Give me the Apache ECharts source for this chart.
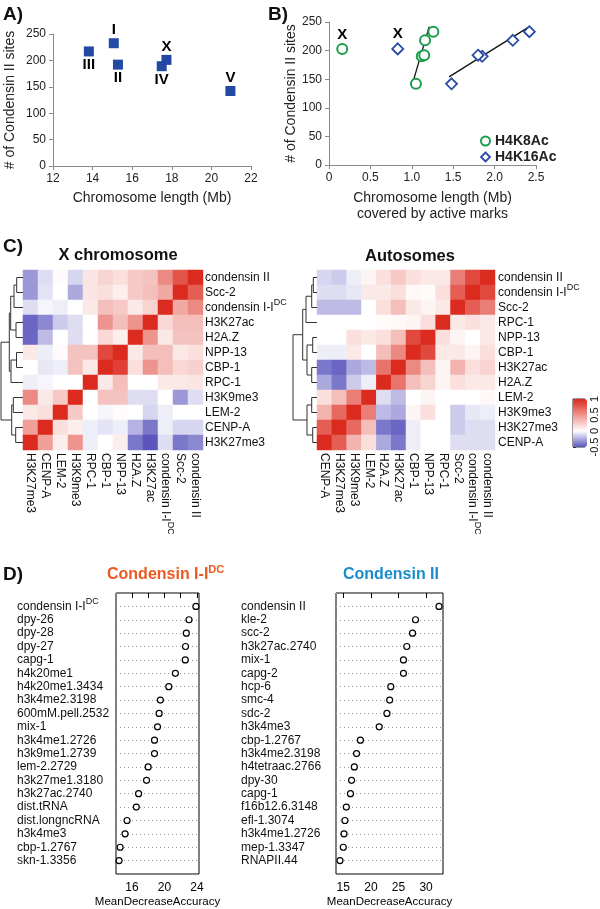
<!DOCTYPE html>
<html><head><meta charset="utf-8">
<script src="https://cdn.jsdelivr.net/npm/echarts@6/dist/echarts.min.js"></script>
<style>html,body{margin:0;padding:0;background:#fff}#c{width:600px;height:909px}</style>
</head><body><div id="c"></div>
<script>
// ---------- Panel A ----------
const aChrom = ['III','I','II','IV','X','V'];
const aLength = [13.81, 15.07, 15.28, 17.49, 17.73, 20.96];
const aSites = [217, 232.5, 192, 189, 201, 142];

// ---------- Panel B ----------
const bChrom = ['X','V','IV','II','III','I'];
const bSites = [203, 142, 190, 192, 218, 233];
const bH4K8 = [0.16, 1.05, 1.12, 1.15, 1.16, 1.26];
const bH4K16 = [0.83, 1.48, 1.85, 1.80, 2.22, 2.42];
const h4k8Trend = [[1.02, 148], [1.21, 242]];
const h4k16Trend = [[1.45, 154], [2.42, 242]];

// ---------- Panel C ----------
const rowsX = ['condensin II','Scc-2','condensin I-I^DC','H3K27ac','H2A.Z','NPP-13','CBP-1','RPC-1','H3K9me3','LEM-2','CENP-A','H3K27me3'];
const colsX = ['H3K27me3','CENP-A','LEM-2','H3K9me3','RPC-1','CBP-1','NPP-13','H2A.Z','H3K27ac','condensin I-I^DC','Scc-2','condensin II'];
const matX = [
  [-0.3,-0.1, 0.02,-0.12, 0.12, 0.2, 0.15, 0.25, 0.28, 0.55, 0.8, 1],
  [-0.3,-0.08, 0,-0.25, 0.12, 0.15, 0.08, 0.25, 0.3, 0.4, 1, 0.75],
  [-0.1,-0.03,-0.05, 0, 0.1, 0.3, 0.25, 0.1, 0.2, 1, 0.4, 0.55],
  [-0.45,-0.35,-0.15,-0.1, 0, 0.5, 0.3, 0.5, 1, 0.18, 0.3, 0.3],
  [-0.45,-0.2, 0,-0.1, 0, 0.18, 0.08, 1, 0.5, 0.1, 0.28, 0.28],
  [0.1,-0.05, 0.02, 0.28, 0.28, 0.85, 1, 0.1, 0.3, 0.3, 0.1, 0.15],
  [0,-0.07,-0.05, 0.28, 0.1, 1, 0.9, 0.15, 0.5, 0.3, 0.18, 0.22],
  [-0.05,-0.03, 0, 0, 1, 0.1, 0.3, 0, 0, 0.1, 0.1, 0.12],
  [0.55, 0.1, 0.25, 1, 0, 0.28, 0.28,-0.1,-0.1, 0,-0.3,-0.1],
  [0.1, 0.15, 1, 0.25, 0,-0.03, 0.02, 0,-0.12,-0.05, 0, 0],
  [0.45, 1, 0.15, 0.08,-0.05,-0.08,-0.05,-0.22,-0.4,-0.05,-0.12,-0.12],
  [1, 0.45, 0.08, 0.5,-0.05, 0, 0.08,-0.4,-0.5,-0.1,-0.4,-0.35]
];
const rowsA = ['condensin II','condensin I-I^DC','Scc-2','RPC-1','NPP-13','CBP-1','H3K27ac','H2A.Z','LEM-2','H3K9me3','H3K27me3','CENP-A'];
const colsA = ['CENP-A','H3K27me3','H3K9me3','LEM-2','H2A.Z','H3K27ac','CBP-1','NPP-13','RPC-1','Scc-2','condensin I-I^DC','condensin II'];
const matA = [
  [-0.12,-0.15,-0.05, 0.05, 0.15, 0.25, 0.15, 0.1, 0.1, 0.6, 0.85, 1],
  [-0.1,-0.1,-0.07, 0.1, 0.1, 0.15, 0.03, 0.02, 0.15, 0.75, 1, 0.85],
  [-0.2,-0.2,-0.2, 0, 0.15, 0.3, 0.1, 0.05, 0.1, 1, 0.75, 0.6],
  [0, 0, 0, 0, 0.02, 0.03, 0.05, 0.15, 1, 0.1, 0.15, 0.1],
  [0, 0, 0.15, 0.1, 0.15, 0.3, 0.85, 1, 0.15, 0.05, 0, 0.1],
  [-0.05,-0.05, 0.1, 0, 0.3, 0.55, 1, 0.85, 0.1, 0.1, 0.05, 0.15],
  [-0.4,-0.45,-0.25,-0.2, 0.65, 1, 0.55, 0.3, 0.05, 0.35, 0.15, 0.2],
  [-0.25,-0.4,-0.15,-0.05, 1, 0.65, 0.3, 0.2, 0.05, 0.15, 0.1, 0.1],
  [0.15, 0.3, 0.6, 1,-0.1,-0.2, 0, 0.05, 0, 0, 0, 0.03],
  [0.35, 0.7, 1, 0.6,-0.2,-0.25, 0.05, 0.15, 0,-0.15,-0.07,-0.05],
  [0.75, 1, 0.7, 0.3,-0.4,-0.45,-0.05, 0, 0,-0.15,-0.1,-0.1],
  [1, 0.75, 0.35, 0.15,-0.25,-0.4,-0.05, 0, 0,-0.1,-0.1,-0.1]
];
// dendrogram merges: [childA, childB, height]; numbers = leaf rows, 'mK' = K-th merge
const dendroX = [[0,1,6.3],['m0',2,9],[3,4,7],['m1','m2',12.3],[5,6,6.5],['m4',7,12],['m3','m5',13.7],[8,9,9.7],[10,11,7.3],['m7','m8',11.3],['m6','m9',22]];
const dendroA = [[0,1,3.7],['m0',2,5.3],['m1',3,11],[4,5,4.3],[6,7,5.3],['m3','m4',10],['m2','m5',14.3],[8,9,5.3],[10,11,4.3],['m7','m8',10],['m6','m9',24]];
const scaleTicks = [-0.5, 0, 0.5, 1];

// ---------- Panel D ----------
const dLeftNames = ['condensin I-I^DC','dpy-26','dpy-28','dpy-27','capg-1','h4k20me1','h4k20me1.3434','h3k4me2.3198','600mM.pell.2532','mix-1','h3k4me1.2726','h3k9me1.2739','lem-2.2729','h3k27me1.3180','h3k27ac.2740','dist.tRNA','dist.longncRNA','h3k4me3','cbp-1.2767','skn-1.3356'];
const dLeftVals = [23.88,23.03,22.7,22.6,22.57,21.35,20.54,19.5,19.35,19.15,18.78,18.78,18.0,17.8,16.82,16.54,15.4,15.16,14.55,14.42];
const dRightNames = ['condensin II','kle-2','scc-2','h3k27ac.2740','mix-1','capg-2','hcp-6','smc-4','sdc-2','h3k4me3','cbp-1.2767','h3k4me2.3198','h4tetraac.2766','dpy-30','capg-1','f16b12.6.3148','efl-1.3074','h3k4me1.2726','mep-1.3347','RNAPII.44'];
const dRightVals = [32.34,28.08,27.54,26.5,25.9,25.9,23.6,23.4,22.9,21.5,18.1,17.4,17.0,16.5,16.3,15.55,15.3,15.13,15.0,14.4];
const dLeftTicks = [16,18,20,22,24], dLeftLabels = [16,20,24];
const dRightTicks = [15,20,25,30];

// ---------- helpers ----------
const FONT = '"Liberation Sans", Arial, sans-serif';
function sup(name){ const p = name.split('^'); return p.length > 1 ? '{n|'+p[0]+'}{s|'+p[1]+'}' : '{n|'+name+'}'; }
function rich(fs){ return { n:{fontSize:fs, lineHeight:18, color:'#111', fontFamily:FONT}, s:{fontSize:Math.round(fs*0.72), lineHeight:10, verticalAlign:'top', color:'#111', fontFamily:FONT} }; }
function dendro(merges){
  const nodes = [], segs = [];
  const get = r => typeof r === 'number' ? {p:r+0.5, h:0} : nodes[+r.slice(1)];
  merges.forEach(([a,b,h]) => { const A = get(a), B = get(b);
    segs.push({coords:[[A.h,A.p],[h,A.p],[h,B.p],[B.h,B.p]]}); nodes.push({p:(A.p+B.p)/2, h:h}); });
  return segs;
}
function hm(mat){ const d = []; mat.forEach((row,r) => row.forEach((v,c) => d.push([c,r,v]))); return d; }

const GREEN = '#1b9e4c', BLUE = '#2a4aa5';
const ptLabel = {fontSize:15, fontWeight:'bold', color:'#000', opacity:1, textBorderWidth:0};
const excelAxis = { axisLine:{show:true, lineStyle:{color:'#8a8a8a'}}, axisTick:{show:true, length:4, lineStyle:{color:'#8a8a8a'}}, splitLine:{show:false}, axisLabel:{color:'#222', fontSize:12, margin:7} };
const hmX = (data, gi) => ({gridIndex:gi, type:'category', data:data, position:'bottom', axisLine:{show:false}, axisTick:{show:false}, splitLine:{show:false},
  axisLabel:{interval:0, rotate:-90, margin:3, formatter:sup, rich:rich(12)}});
const hmY = (data, gi, m) => ({gridIndex:gi, type:'category', data:data, inverse:true, position:'right', axisLine:{show:false}, axisTick:{show:false}, splitLine:{show:false},
  axisLabel:{interval:0, margin:m, formatter:sup, rich:rich(12)}});
const dgX = (gi, mx) => ({gridIndex:gi, type:'value', min:0, max:mx, inverse:true, show:false});
const dgY = (gi) => ({gridIndex:gi, type:'value', min:0, max:12, inverse:true, show:false});
const dY = (gi, names, m) => ({gridIndex:gi, type:'value', min:0, max:21, interval:1, inverse:true, axisLine:{show:false}, axisTick:{show:false},
  splitLine:{show:true, lineStyle:{type:[1,3], color:'#9a9a9a'}},
  axisLabel:{align:'left', margin:m, formatter: v => (v>=1 && v<=names.length) ? sup(names[v-1]) : '', rich:rich(12)}});
const dX = (gi, mn, mx, ticks, labels) => ({gridIndex:gi, type:'value', min:mn, max:mx, axisLine:{show:false}, splitLine:{show:false},
  axisTick:{show:true, length:5, customValues:ticks, lineStyle:{color:'#000'}},
  axisLabel:{customValues:labels, color:'#000', fontSize:12, margin:8},
  name:'MeanDecreaseAccuracy', nameLocation:'middle', nameGap:22, nameTextStyle:{fontSize:11.5, color:'#000'}});

const option = {
  animation:false,
  textStyle:{fontFamily:FONT},
  grid:[
    {left:53, top:34, width:198, height:132},
    {left:329, top:22, width:207, height:143},
    {left:23, top:270, width:180, height:180},
    {left:1, top:270, width:22, height:180},
    {left:317, top:270, width:178, height:180},
    {left:293, top:270, width:24, height:180},
    {left:573, top:399, width:14, height:48, show:true, borderColor:'#333', borderWidth:1},
    {left:116, top:593, width:83, height:282, show:true, borderColor:'#000', borderWidth:1},
    {left:336, top:593, width:107, height:282, show:true, borderColor:'#000', borderWidth:1}
  ],
  xAxis:[
    Object.assign({gridIndex:0, type:'value', min:12, max:22, interval:2, name:'Chromosome length (Mb)', nameLocation:'middle', nameGap:25, nameTextStyle:{fontSize:14, color:'#222'}}, excelAxis),
    Object.assign({gridIndex:1, type:'value', min:0, max:2.5, interval:0.5, name:'Chromosome length (Mb)\ncovered by active marks', nameLocation:'middle', nameGap:25, nameTextStyle:{fontSize:14, color:'#222', lineHeight:16}},
      excelAxis, {axisLabel:{color:'#222', fontSize:12, margin:7, formatter: v => v === 0 ? '0' : v.toFixed(1)}}),
    hmX(colsX, 2), dgX(3, 22), hmX(colsA, 4), dgX(5, 24),
    {gridIndex:6, type:'value', show:false, min:0, max:1},
    dX(7, 14.04, 24.26, dLeftTicks, dLeftLabels),
    dX(8, 13.68, 33.06, dRightTicks, dRightTicks)
  ],
  yAxis:[
    Object.assign({gridIndex:0, type:'value', min:0, max:250, interval:50, name:'# of Condensin II sites', nameLocation:'middle', nameGap:36, nameTextStyle:{fontSize:14, color:'#222'}}, excelAxis),
    Object.assign({gridIndex:1, type:'value', min:0, max:250, interval:50, name:'# of Condensin II sites', nameLocation:'middle', nameGap:30, nameTextStyle:{fontSize:14, color:'#222'}}, excelAxis),
    hmY(rowsX, 2, 2), dgY(3), hmY(rowsA, 4, 3), dgY(5),
    {gridIndex:6, type:'value', min:-0.5, max:1, interval:0.5, position:'right', axisLine:{show:false}, splitLine:{show:false},
      axisTick:{show:true, length:3, lineStyle:{color:'#333'}}, axisLabel:{rotate:90, fontSize:11, color:'#111', margin:4, customValues:scaleTicks}},
    dY(7, dLeftNames, 99),
    dY(8, dRightNames, 95)
  ],
  visualMap:{type:'continuous', min:-0.5, max:1, seriesIndex:[5,7], calculable:false, hoverLink:false,
    left:568, top:394, itemWidth:14, itemHeight:48, padding:5,
    inRange:{color:['#5b55bd','#aca9df','#ffffff','#f6c9c6','#ee948e','#e55e54','#db2a1e']}},
  legend:{left:475, top:129, orient:'vertical', itemWidth:9, itemHeight:9, itemGap:2, selectedMode:false,
    textStyle:{fontSize:14, fontWeight:'bold', color:'#222'},
    data:[{name:'H4K8Ac', icon:'circle', itemStyle:{color:'#fff', borderColor:GREEN, borderWidth:2}},
          {name:'H4K16Ac', icon:'diamond', itemStyle:{color:'#fff', borderColor:BLUE, borderWidth:1.8}}]},
  series:[
    {type:'scatter', xAxisIndex:0, yAxisIndex:0, symbol:'rect', symbolSize:10, itemStyle:{color:'#2349a5', opacity:1},
      data: aLength.map((x,i) => ({name:aChrom[i], value:[x, aSites[i]], label:Object.assign({show:true, formatter:'{b}', distance:1, position: ({I:'top',III:'bottom',II:'bottom',IV:'bottom',X:'top',V:'top'})[aChrom[i]]}, ptLabel)}))},
    {type:'scatter', name:'H4K8Ac', xAxisIndex:1, yAxisIndex:1, symbol:'circle', symbolSize:10, itemStyle:{color:'#fff', borderColor:GREEN, borderWidth:2, opacity:1},
      data: bH4K8.map((x,i) => ({name:bChrom[i], value:[x, bSites[i]], label:Object.assign({show: bChrom[i]==='X', formatter:'{b}', position:'top', distance:1}, ptLabel)}))},
    {type:'scatter', name:'H4K16Ac', xAxisIndex:1, yAxisIndex:1, symbol:'diamond', symbolSize:11, itemStyle:{color:'#fff', borderColor:BLUE, borderWidth:1.8, opacity:1},
      data: bH4K16.map((x,i) => ({name:bChrom[i], value:[x, bSites[i]], label:Object.assign({show: bChrom[i]==='X', formatter:'{b}', position:'top', distance:1}, ptLabel)}))},
    {type:'line', xAxisIndex:1, yAxisIndex:1, data:h4k8Trend, symbol:'none', lineStyle:{color:'#111', width:1.3}, z:1},
    {type:'line', xAxisIndex:1, yAxisIndex:1, data:h4k16Trend, symbol:'none', lineStyle:{color:'#111', width:1.3}, z:1},
    {type:'heatmap', xAxisIndex:2, yAxisIndex:2, data:hm(matX), emphasis:{disabled:true}},
    {type:'lines', coordinateSystem:'cartesian2d', xAxisIndex:3, yAxisIndex:3, polyline:true, silent:true, lineStyle:{color:'#333', width:1, opacity:1}, data:dendro(dendroX)},
    {type:'heatmap', xAxisIndex:4, yAxisIndex:4, data:hm(matA), emphasis:{disabled:true}},
    {type:'lines', coordinateSystem:'cartesian2d', xAxisIndex:5, yAxisIndex:5, polyline:true, silent:true, lineStyle:{color:'#333', width:1, opacity:1}, data:dendro(dendroA)},
    {type:'scatter', xAxisIndex:7, yAxisIndex:7, symbol:'circle', symbolSize:6, itemStyle:{color:'#fff', borderColor:'#000', borderWidth:1.2, opacity:1},
      data: dLeftVals.map((v,i) => [v, i+1])},
    {type:'scatter', xAxisIndex:8, yAxisIndex:8, symbol:'circle', symbolSize:6, itemStyle:{color:'#fff', borderColor:'#000', borderWidth:1.2, opacity:1},
      data: dRightVals.map((v,i) => [v, i+1])}
  ],
  graphic:[
    {type:'text', x:3, y:15, style:{text:'A)', font:'bold 19px '+FONT, fill:'#111', textVerticalAlign:'middle'}},
    {type:'text', x:268, y:15, style:{text:'B)', font:'bold 19px '+FONT, fill:'#111', textVerticalAlign:'middle'}},
    {type:'text', x:3, y:247, style:{text:'C)', font:'bold 19px '+FONT, fill:'#111', textVerticalAlign:'middle'}},
    {type:'text', x:3, y:575, style:{text:'D)', font:'bold 19px '+FONT, fill:'#111', textVerticalAlign:'middle'}},
    {type:'text', x:118, y:255, style:{text:'X chromosome', font:'bold 16.5px '+FONT, fill:'#111', textAlign:'center', textVerticalAlign:'middle'}},
    {type:'text', x:410, y:256, style:{text:'Autosomes', font:'bold 16.5px '+FONT, fill:'#111', textAlign:'center', textVerticalAlign:'middle'}},
    {type:'text', x:107, y:575, style:{text:'{a|Condensin I-I}{b|DC}', textVerticalAlign:'middle',
      rich:{a:{fontSize:16, fontWeight:'bold', fill:'#ec5a22', fontFamily:FONT, lineHeight:22}, b:{fontSize:11, fontWeight:'bold', fill:'#ec5a22', fontFamily:FONT, verticalAlign:'top', lineHeight:12}}}},
    {type:'text', x:343, y:575, style:{text:'Condensin II', font:'bold 16px '+FONT, fill:'#1a8ccc', textVerticalAlign:'middle'}}
  ]
};
const chart = echarts.init(document.getElementById('c'), null, {renderer:'canvas'});
chart.setOption(option);
</script></body></html>
